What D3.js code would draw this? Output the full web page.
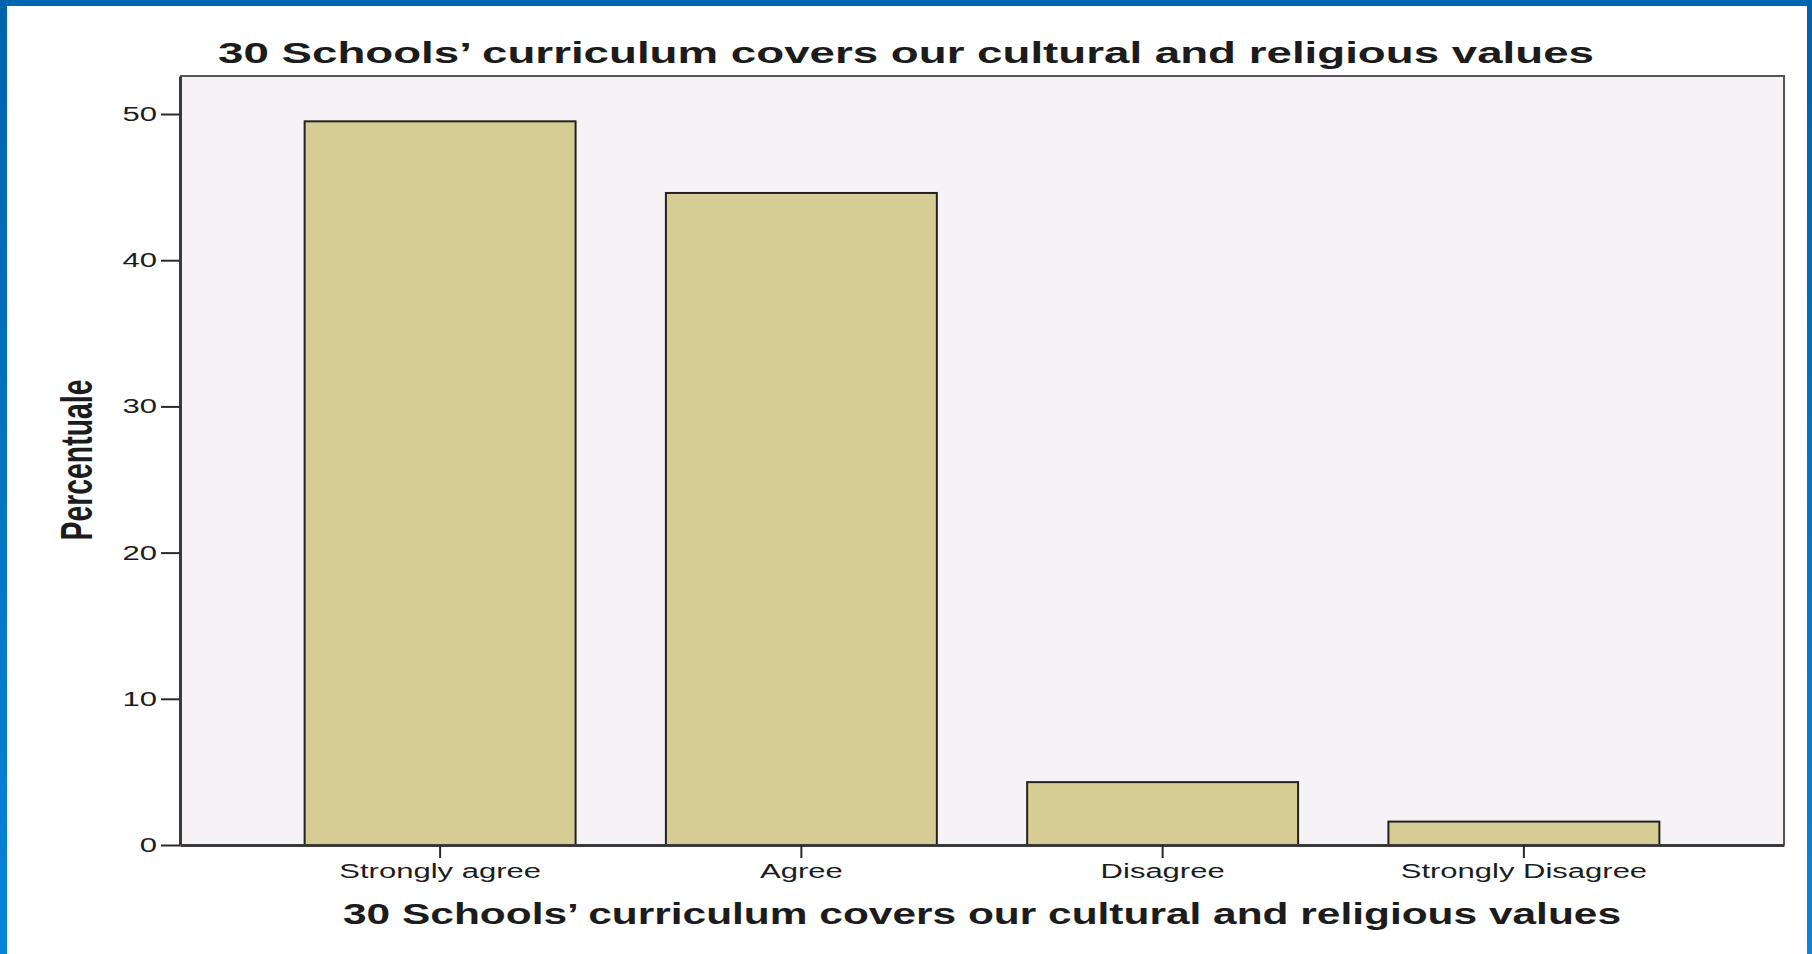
<!DOCTYPE html>
<html lang="en">
	<head>
		<meta charset="utf-8">
		<title>Schools' curriculum bar chart</title>
		<script type="text/javascript" src="https://cdn.jsdelivr.net/npm/d3@7"></script>
		<style type="text/css">
		body { margin: 0; background: #fff; }
		text { font-family: "Liberation Sans", Arial, sans-serif; fill: #1c1c1c; }
		.axis text { font-size: 20px; }
		.title { font-size: 30px; font-weight: bold; }
		</style>
	</head>
	<body>
		<div id="chart"></div>
		<script type="text/javascript">

        var categories = ["Strongly agree", "Agree", "Disagree", "Strongly Disagree"];
        var percents = [49.5, 44.6, 4.3, 1.6];
        var yTicks = [0, 10, 20, 30, 40, 50];
        var titleText = "30 Schools\u2019 curriculum covers our cultural and religious values";
        var yTitle = "Percentuale";

        var W = 1812, H = 954;
        var plot = {left: 180, right: 1784, top: 76, bottom: 845};
        var stretch = 1.55;   // the picture is wider than tall, text too

        var svg = d3.select("#chart").append("svg")
                    .attr("width", W)
                    .attr("height", H);

        // blue frame
        var grad = svg.append("defs").append("linearGradient")
                      .attr("id", "blueside").attr("x1", 0).attr("y1", 0).attr("x2", 0).attr("y2", 1);
        grad.append("stop").attr("offset", "0%").attr("stop-color", "#0063ac");
        grad.append("stop").attr("offset", "100%").attr("stop-color", "#0a84d8");
        svg.append("rect").attr("x", 0).attr("y", 0).attr("width", W).attr("height", 6).attr("fill", "#0066b0");
        svg.append("rect").attr("x", 0).attr("y", 0).attr("width", 7).attr("height", H).attr("fill", "url(#blueside)");
        svg.append("rect").attr("x", W - 5).attr("y", 0).attr("width", 5).attr("height", H).attr("fill", "url(#blueside)");

        var x = d3.scaleBand()
                  .domain(categories)
                  .range([plot.left, plot.right])
                  .paddingInner(0.25)
                  .paddingOuter(0.345);
        var y = d3.scaleLinear()
                  .domain([0, 52.6])
                  .range([plot.bottom, plot.top]);

        // plot background
        svg.append("rect")
           .attr("x", plot.left).attr("y", plot.top)
           .attr("width", plot.right - plot.left)
           .attr("height", plot.bottom - plot.top)
           .attr("fill", "#f6f2f6");

        svg.selectAll(".bar")
           .data(percents)
           .enter().append("rect")
           .attr("class", "bar")
           .attr("x", function(d, i) { return x(categories[i]); })
           .attr("width", x.bandwidth())
           .attr("y", function(d) { return y(d); })
           .attr("height", function(d) { return y(0) - y(d); })
           .attr("fill", "#d6cd94")
           .attr("stroke", "#222")
           .attr("stroke-width", 2);

        // top and right edges of the frame
        svg.append("path")
           .attr("d", "M" + plot.left + "," + plot.top + "H" + plot.right + "V" + plot.bottom)
           .attr("fill", "none")
           .attr("stroke", "#555")
           .attr("stroke-width", 2);

        var yAxis = d3.axisLeft(y).tickValues(yTicks).tickSize(19).tickSizeOuter(0).tickPadding(4);
        var xAxis = d3.axisBottom(x).tickSize(13).tickSizeOuter(0).tickPadding(6);

        var gy = svg.append("g")
                    .attr("class", "y axis")
                    .attr("transform", "translate(" + plot.left + ",0)")
                    .call(yAxis);
        var gx = svg.append("g")
                    .attr("class", "x axis")
                    .attr("transform", "translate(0," + plot.bottom + ")")
                    .call(xAxis);

        [gy, gx].forEach(function(g) {
            g.select(".domain").attr("stroke", "#3a3a3a").attr("stroke-width", 3);
            g.selectAll(".tick line").attr("stroke", "#2a2a2a").attr("stroke-width", 2);
            g.selectAll(".tick text").attr("fill", "#1c1c1c").attr("font-size", 20)
             .each(function() {
                 var w = this.getComputedTextLength();
                 d3.select(this).attr("textLength", w * stretch).attr("lengthAdjust", "spacingAndGlyphs");
             });
        });

        svg.append("text")
           .attr("class", "title")
           .attr("x", W / 2)
           .attr("y", 63)
           .attr("text-anchor", "middle")
           .attr("textLength", 1376)
           .attr("lengthAdjust", "spacingAndGlyphs")
           .text(titleText);

        svg.append("text")
           .attr("class", "title")
           .attr("x", (plot.left + plot.right) / 2)
           .attr("y", 924)
           .attr("text-anchor", "middle")
           .attr("textLength", 1278)
           .attr("lengthAdjust", "spacingAndGlyphs")
           .text(titleText);

        svg.append("text")
           .attr("transform", "translate(92,460) rotate(-90)")
           .attr("text-anchor", "middle")
           .attr("font-size", 44)
           .attr("font-weight", "bold")
           .attr("textLength", 161)
           .attr("lengthAdjust", "spacingAndGlyphs")
           .text(yTitle);

		</script>
	</body>
</html>
